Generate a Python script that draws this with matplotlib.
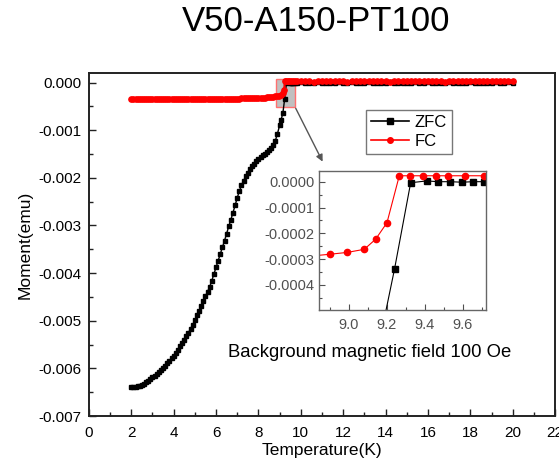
import numpy as np
import matplotlib
matplotlib.use('Agg')
import matplotlib.pyplot as plt
from matplotlib.patches import Rectangle
from matplotlib.lines import Line2D
from matplotlib.ticker import FixedLocator, MultipleLocator, FormatStrFormatter

plt.rcParams['font.family'] = ['Liberation Sans', 'DejaVu Sans']

# ---- data (moment in emu) ----
# ZFC, low temperature part, 2.0 .. 9.0 K every 0.1 K
t_zfc_low = np.round(np.arange(2.0, 9.05, 0.1), 2)
m_zfc_low = [
    -0.00640, -0.00640, -0.00639, -0.00638, -0.00636, -0.00634, -0.00632, -0.00629, -0.00626, -0.00623,
    -0.00619, -0.00615, -0.00611, -0.00607, -0.00603, -0.00599, -0.00594, -0.00589, -0.00584, -0.00579,
    -0.00573, -0.00567, -0.00561, -0.00554, -0.00547, -0.00540, -0.00533, -0.00525, -0.00517, -0.00508,
    -0.00499, -0.00489, -0.00479, -0.00469, -0.00459, -0.00449, -0.00439, -0.00429, -0.00416, -0.00402,
    -0.00388, -0.00374, -0.00360, -0.00346, -0.00332, -0.00317, -0.00302, -0.00288, -0.00273, -0.00258,
    -0.00242, -0.00228, -0.00216, -0.00206, -0.00197, -0.00189, -0.00182, -0.00176, -0.00170, -0.00165,
    -0.00161, -0.00157, -0.00153, -0.00150, -0.00146, -0.00142, -0.00138, -0.00132, -0.00122, -0.00107,
    -0.00090,
]
# ZFC around the transition
t_zfc_tr = [9.07, 9.155, 9.24, 9.325, 9.41, 9.47, 9.535, 9.595, 9.655, 9.71]
m_zfc_tr = [-0.00078, -0.00064, -0.000338, -0.000004, 0.000003, 0.000000,
            0.000000, -0.000002, 0.000000, 0.000000]
# ZFC, normal state, 9.8 .. 20.0 K every 0.2 K
t_high = np.round(np.arange(9.8, 20.05, 0.2), 2)
m_zfc_high = [
    0.000000, 0.000001, 0.000000, -0.000001, 0.000000, 0.000001, 0.000000, 0.000000, -0.000001, 0.000000,
    0.000001, 0.000000, 0.000000, 0.000001, -0.000001, 0.000000, 0.000000, 0.000001, 0.000000, 0.000000,
    -0.000001, 0.000000, 0.000001, 0.000000, 0.000000, 0.000000, -0.000001, 0.000000, 0.000001, 0.000000,
    0.000000, 0.000001, 0.000000, -0.000001, 0.000000, 0.000000, 0.000001, 0.000000, 0.000000, -0.000001,
    0.000000, 0.000001, 0.000000, 0.000000, 0.000000, -0.000001, 0.000000, 0.000001, 0.000000, 0.000000,
    0.000001, 0.000000,
]

# FC, 2.0 .. 8.8 K every 0.1 K
t_fc_low = np.round(np.arange(2.0, 8.85, 0.1), 2)
m_fc_low = [
    -0.000340, -0.000342, -0.000340, -0.000343, -0.000341, -0.000344, -0.000342, -0.000345, -0.000343, -0.000344,
    -0.000346, -0.000344, -0.000347, -0.000345, -0.000346, -0.000348, -0.000346, -0.000347, -0.000349, -0.000347,
    -0.000348, -0.000350, -0.000348, -0.000349, -0.000351, -0.000349, -0.000350, -0.000352, -0.000350, -0.000351,
    -0.000350, -0.000352, -0.000350, -0.000351, -0.000349, -0.000350, -0.000348, -0.000349, -0.000347, -0.000348,
    -0.000346, -0.000347, -0.000345, -0.000344, -0.000342, -0.000343, -0.000340, -0.000341, -0.000338, -0.000337,
    -0.000335, -0.000336, -0.000333, -0.000332, -0.000330, -0.000331, -0.000328, -0.000327, -0.000325, -0.000324,
    -0.000322, -0.000320, -0.000318, -0.000315, -0.000312, -0.000308, -0.000302, -0.000295, -0.000288,
]
t_fc_tr = [8.90, 8.99, 9.08, 9.14, 9.20, 9.265, 9.32, 9.39, 9.46, 9.52, 9.61, 9.71]
m_fc_tr = [-0.000281, -0.000274, -0.000262, -0.000223, -0.000159, 0.000023,
           0.000023, 0.000023, 0.000023, 0.000023, 0.000023, 0.000023]
m_fc_high = [
    0.000023, 0.000022, 0.000024, 0.000023, 0.000021, 0.000023, 0.000024, 0.000022, 0.000023, 0.000022,
    0.000024, 0.000023, 0.000021, 0.000023, 0.000022, 0.000024, 0.000023, 0.000022, 0.000023, 0.000024,
    0.000022, 0.000023, 0.000021, 0.000023, 0.000024, 0.000022, 0.000023, 0.000022, 0.000024, 0.000023,
    0.000022, 0.000023, 0.000024, 0.000022, 0.000023, 0.000021, 0.000023, 0.000022, 0.000024, 0.000023,
    0.000022, 0.000023, 0.000024, 0.000022, 0.000023, 0.000022, 0.000023, 0.000024, 0.000022, 0.000023,
    0.000022, 0.000023,
]

t_zfc = np.concatenate([t_zfc_low, t_zfc_tr, t_high])
m_zfc = np.concatenate([m_zfc_low, m_zfc_tr, m_zfc_high])
t_fc = np.concatenate([t_fc_low, t_fc_tr, t_high])
m_fc = np.concatenate([m_fc_low, m_fc_tr, m_fc_high])

main_yticks = [-0.007, -0.006, -0.005, -0.004, -0.003, -0.002, -0.001, 0.0]
inset_yticks = [-0.0004, -0.0003, -0.0002, -0.0001, 0.0]
inset_xticks = [9.0, 9.2, 9.4, 9.6]

fig = plt.figure(figsize=(5.59, 4.63), dpi=100)
ax = fig.add_axes([0.159, 0.1015, 0.834, 0.7408])

ax.plot(t_zfc, m_zfc, '-', color='black', marker='s', ms=3.4, lw=1.0, zorder=3)
ax.plot(t_fc, m_fc, '-', color='red', marker='o', ms=3.8, lw=1.5, zorder=4)

ax.set_xlim(0, 22)
ax.set_ylim(-0.007, 0.0002)
ax.xaxis.set_major_locator(MultipleLocator(2))
ax.xaxis.set_minor_locator(MultipleLocator(1))
ax.yaxis.set_major_locator(FixedLocator(main_yticks))
ax.yaxis.set_minor_locator(MultipleLocator(0.0005))
ax.yaxis.set_major_formatter(FormatStrFormatter('%.3f'))
ax.tick_params(which='both', direction='in', top=False, right=False, labelsize=11, width=1, color='#222222')
ax.tick_params(which='major', length=5)
ax.tick_params(which='minor', length=3)
ax.tick_params(axis='x', pad=7.5)
ax.tick_params(axis='y', pad=5.5)
for s in ax.spines.values():
    s.set_linewidth(1.4)
    s.set_color('#222222')

ax.set_xlabel('Temperature(K)', fontsize=12.5)
ax.set_ylabel('Moment(emu)', fontsize=12.5)
ax.xaxis.set_label_coords(0.5, -0.08)
ax.yaxis.set_label_coords(-0.12, 0.5)

# zoom box and arrow
ax.add_patch(Rectangle((8.85, -0.00051), 0.9, 0.00058, facecolor='#c0c0c0',
                       edgecolor='#ff7070', lw=1, zorder=2))
ax.annotate('', xy=(11.03, -0.00166), xytext=(9.76, -0.00054),
            arrowprops=dict(arrowstyle='-|>', color='#555555', lw=1, mutation_scale=10,
                            shrinkA=0, shrinkB=0))

# legend
handles = [Line2D([], [], color='black', marker='s', ms=4, lw=1.2),
           Line2D([], [], color='red', marker='o', ms=4, lw=1.2)]
leg = fig.legend(handles, ['ZFC', 'FC'], loc='upper left', bbox_to_anchor=(0.655, 0.762),
                 fontsize=12, frameon=True, fancybox=False, handlelength=2.3,
                 borderpad=0.3, labelspacing=0.2, handletextpad=0.3, borderaxespad=0)
leg.get_frame().set_edgecolor('#555555')
leg.get_frame().set_linewidth(1)

fig.text(0.408, 1 - 356.7 / 463, 'Background magnetic field 100 Oe', fontsize=13.3, va='baseline', ha='left')
fig.text(0.566, 0.953, 'V50-A150-PT100', fontsize=25, ha='center', va='center')

# inset
axi = fig.add_axes([0.5712, 0.3305, 0.2977, 0.3002])
axi.plot(t_zfc, m_zfc, '-', color='black', marker='s', ms=4.5, lw=0.8)
axi.plot(t_fc, m_fc, '-', color='red', marker='o', ms=4.5, lw=0.8)
axi.set_xlim(8.843, 9.721)
axi.set_ylim(-0.000497, 0.0000415)
axi.xaxis.set_major_locator(FixedLocator(inset_xticks))
axi.xaxis.set_minor_locator(MultipleLocator(0.1))
axi.yaxis.set_major_locator(FixedLocator(inset_yticks))
axi.yaxis.set_minor_locator(MultipleLocator(0.00005))
axi.xaxis.set_major_formatter(FormatStrFormatter('%.1f'))
axi.yaxis.set_major_formatter(FormatStrFormatter('%.4f'))
axi.tick_params(which='both', direction='in', top=False, right=False, labelsize=10.5,
                labelcolor='#505050', color='#505050', width=0.8)
axi.tick_params(which='major', length=4)
axi.tick_params(which='minor', length=2.5)
axi.tick_params(axis='x', pad=6)
for s in axi.spines.values():
    s.set_linewidth(1)
    s.set_color('#666666')

fig.savefig('out.png', dpi=100)
